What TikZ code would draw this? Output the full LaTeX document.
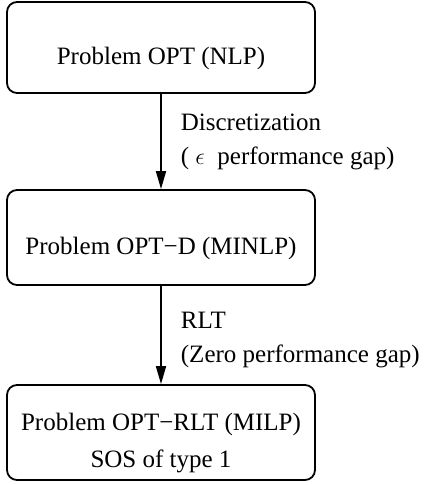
\documentclass[tikz,border=0pt]{standalone}
\usepackage{fontspec}
\setmainfont{Liberation Serif}
\usetikzlibrary{positioning,arrows.meta}
\tikzset{%
  problem/.style={draw, rectangle, rounded corners=5pt, line width=0.9pt,
    minimum width=154pt, minimum height=47.5pt, align=center,
    font=\fontsize{12.5}{18.5}\selectfont},% one formulation of the problem
  steplabel/.style={align=left, inner sep=0pt, right=9.5pt,
    font=\fontsize{12.5}{17}\selectfont},% text beside a transformation arrow
  transform/.style={line width=0.9pt, -{Triangle[length=9pt,width=5pt]}}% transformation arrow
}
\begin{document}
\begin{tikzpicture}[x=0.5pt,y=-0.5pt]
\useasboundingbox (0,0) rectangle (424,485);
\node[problem, minimum height=45.5pt, text height=17pt, text depth=0pt] (nlp) at (161, 47.5) {Problem OPT (NLP)};
\node[problem, text height=17pt, text depth=0pt] (minlp) at (161, 237.5) {Problem OPT−D (MINLP)};
\node[problem] (milp) at (161, 432.5) {\raisebox{-4.5pt}[\height][\depth]{\begin{tabular}{@{}c@{}}Problem OPT−RLT (MILP)\\ SOS of type 1\end{tabular}}};

\draw[transform] (nlp) -- node[steplabel] {Discretization\\( $\epsilon$\ \ performance gap)} (minlp);
\draw[transform] (minlp) -- node[steplabel, yshift=-2.5pt] {RLT\\(Zero performance gap)} (milp);
\end{tikzpicture}
\end{document}
